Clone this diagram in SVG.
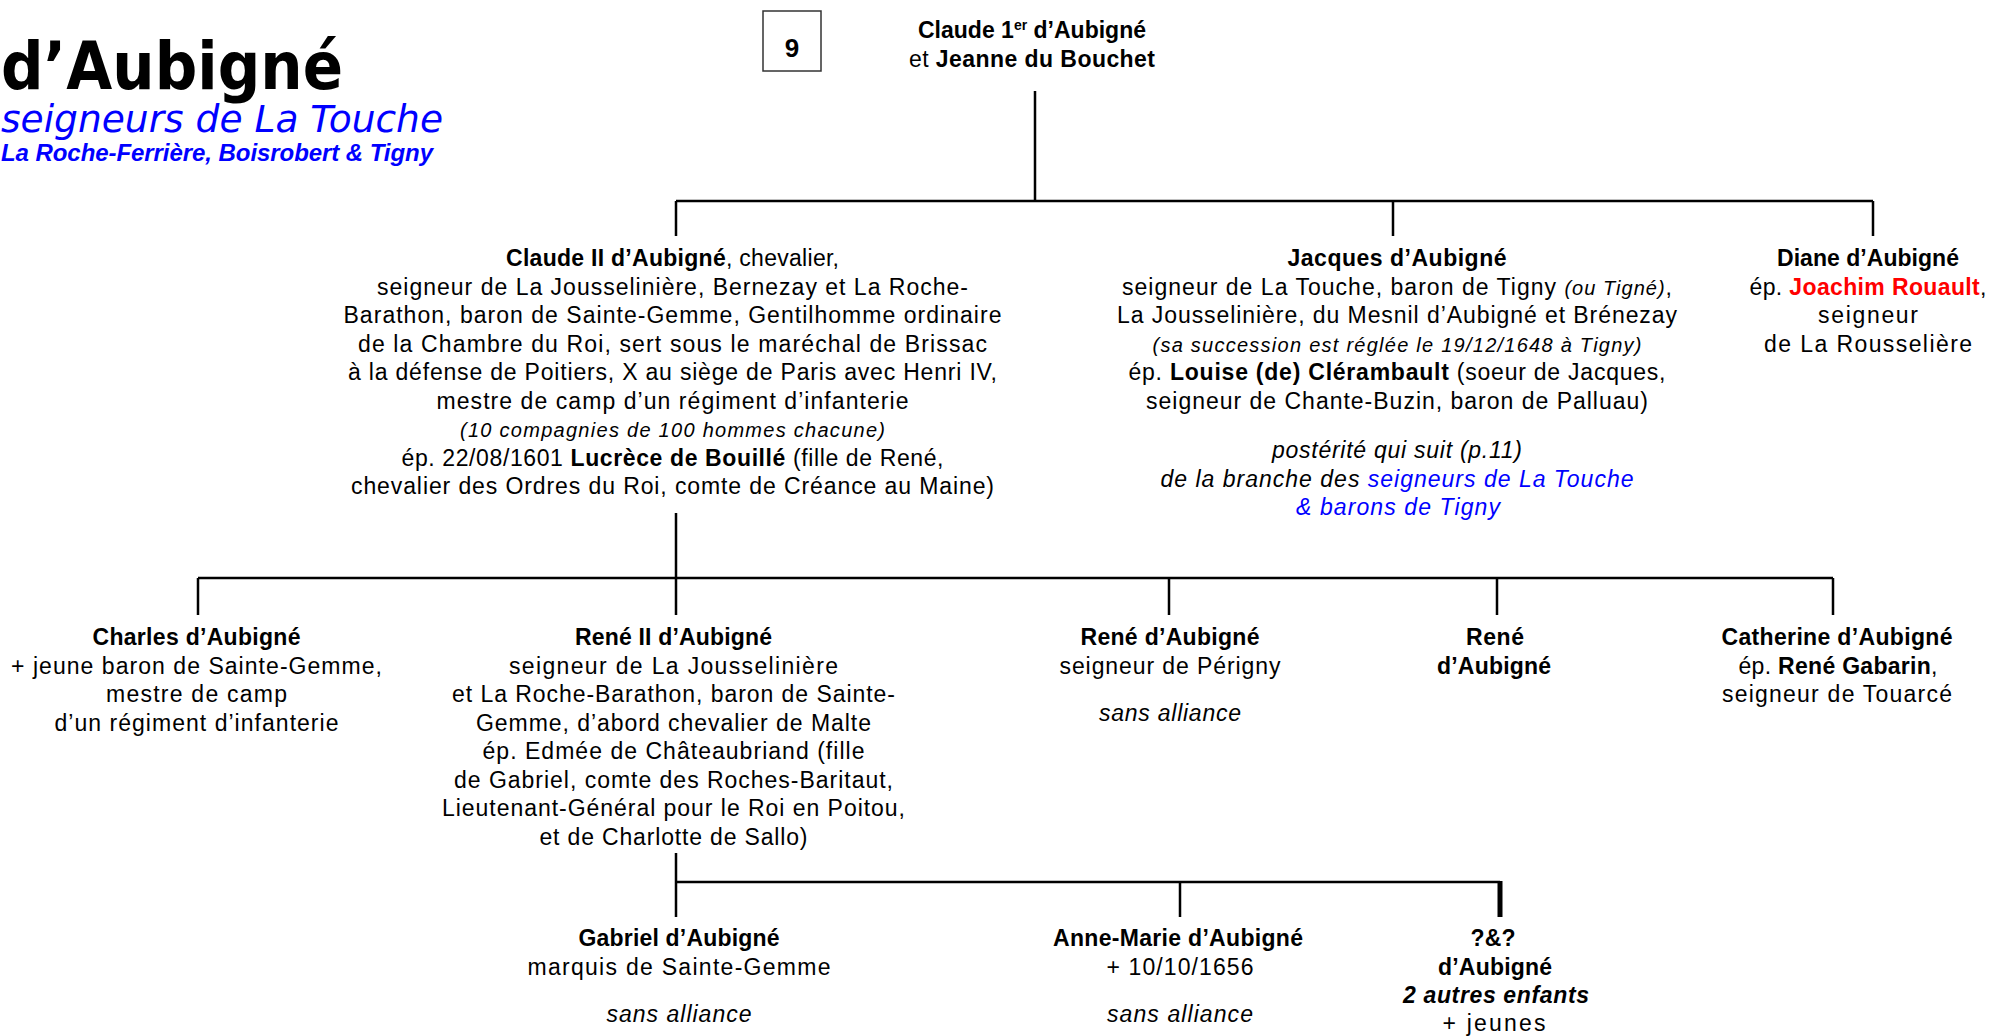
<svg xmlns="http://www.w3.org/2000/svg" width="1990" height="1036" viewBox="0 0 1990 1036">
<style>
text{font-family:"Liberation Sans",Arial,sans-serif;font-size:23px;fill:#000;text-anchor:middle}
.b{font-weight:bold}
.i{font-style:italic}
.s{font-size:20px}
.blue{fill:#0000ff}
.red{fill:#ff0000}
.ln{stroke:#000;stroke-width:2.5;fill:none}
</style>
<rect width="1990" height="1036" fill="#fff"/>
<g id="title">
<text x="1" y="89" textLength="342" lengthAdjust="spacingAndGlyphs" style="font-family:'DejaVu Sans',Verdana,sans-serif;font-weight:bold;font-size:66px;text-anchor:start">d’Aubigné</text>
<text x="1" y="132" class="blue" textLength="442" lengthAdjust="spacingAndGlyphs" style="font-family:'DejaVu Sans',Verdana,sans-serif;font-style:italic;font-size:37px;text-anchor:start">seigneurs de La Touche</text>
<text x="1" y="161" class="b i blue" textLength="432" style="font-size:24px;text-anchor:start">La Roche-Ferrière, Boisrobert &amp; Tigny</text>
</g>
<g id="page">
<rect x="763" y="11" width="58" height="60" fill="#fff" stroke="#333" stroke-width="1.5"/>
<text x="792" y="57" class="b" style="font-size:26px">9</text>
</g>
<g id="connectors">
<path class="ln" d="M1035 91V201M676 201H1873M676 201V236M1393 201V236M1873 201V236"/>
<path class="ln" d="M676 513V578M198 578H1833M198 578V615M676 578V615M1169 578V615M1497 578V615M1833 578V615"/>
<path class="ln" d="M676 853V882H1500M676 882V917M1180 882V917"/>
<path d="M1500 881V917" stroke="#000" stroke-width="5" fill="none"/>
</g>
<g id="claude1">
<text x="1032" y="38" class="b" textLength="228">Claude 1<tspan style="font-size:14px" dy="-8">er</tspan><tspan dy="8"> d’Aubigné</tspan></text>
<text x="1032" y="67" textLength="246">et <tspan class="b">Jeanne du Bouchet</tspan></text>
</g>
<g id="claude2">
<text x="672.5" y="266" textLength="333"><tspan class="b">Claude II d’Aubigné</tspan>, chevalier,</text>
<text x="672.5" y="294.5" textLength="591">seigneur de La Jousselinière, Bernezay et La Roche-</text>
<text x="672.5" y="323" textLength="658">Barathon, baron de Sainte-Gemme, Gentilhomme ordinaire</text>
<text x="672.5" y="351.5" textLength="629">de la Chambre du Roi, sert sous le maréchal de Brissac</text>
<text x="672.5" y="380" textLength="649">à la défense de Poitiers, X au siège de Paris avec Henri IV,</text>
<text x="672.5" y="408.5" textLength="472">mestre de camp d’un régiment d’infanterie</text>
<text x="672.5" y="437" class="i s" textLength="425">(10 compagnies de 100 hommes chacune)</text>
<text x="672.5" y="465.5" textLength="542">ép. 22/08/1601 <tspan class="b">Lucrèce de Bouillé</tspan> (fille de René,</text>
<text x="672.5" y="494" textLength="643">chevalier des Ordres du Roi, comte de Créance au Maine)</text>
</g>
<g id="jacques">
<text x="1397" y="266" class="b" textLength="219">Jacques d’Aubigné</text>
<text x="1397" y="294.5" textLength="550">seigneur de La Touche, baron de Tigny <tspan class="i s">(ou Tigné)</tspan>,</text>
<text x="1397" y="323" textLength="560">La Jousselinière, du Mesnil d’Aubigné et Brénezay</text>
<text x="1397" y="351.5" class="i s" textLength="489">(sa succession est réglée le 19/12/1648 à Tigny)</text>
<text x="1397" y="380" textLength="537">ép. <tspan class="b">Louise (de) Clérambault</tspan> (soeur de Jacques,</text>
<text x="1397" y="408.5" textLength="502">seigneur de Chante-Buzin, baron de Palluau)</text>
<text x="1397" y="458" class="i" textLength="250">postérité qui suit (p.11)</text>
<text x="1397" y="486.5" class="i" textLength="473">de la branche des <tspan class="blue">seigneurs de La Touche</tspan></text>
<text x="1398" y="515" class="i blue" textLength="204">&amp; barons de Tigny</text>
</g>
<g id="diane">
<text x="1868" y="266" class="b" textLength="182">Diane d’Aubigné</text>
<text x="1868" y="294.5" textLength="237">ép. <tspan class="b red">Joachim Rouault</tspan>,</text>
<text x="1868" y="323" textLength="100">seigneur</text>
<text x="1868" y="351.5" textLength="208">de La Rousselière</text>
</g>
<g id="charles">
<text x="196.5" y="645" class="b" textLength="208">Charles d’Aubigné</text>
<text x="196.5" y="673.5" textLength="371">+ jeune baron de Sainte-Gemme,</text>
<text x="196.5" y="702" textLength="181">mestre de camp</text>
<text x="196.5" y="730.5" textLength="284">d’un régiment d’infanterie</text>
</g>
<g id="rene2">
<text x="673.5" y="645" class="b" textLength="197">René II d’Aubigné</text>
<text x="673.5" y="673.5" textLength="329">seigneur de La Jousselinière</text>
<text x="673.5" y="702" textLength="443">et La Roche-Barathon, baron de Sainte-</text>
<text x="673.5" y="730.5" textLength="395">Gemme, d’abord chevalier de Malte</text>
<text x="673.5" y="759" textLength="382">ép. Edmée de Châteaubriand (fille</text>
<text x="673.5" y="787.5" textLength="439">de Gabriel, comte des Roches-Baritaut,</text>
<text x="673.5" y="816" textLength="463">Lieutenant-Général pour le Roi en Poitou,</text>
<text x="673.5" y="844.5" textLength="268">et de Charlotte de Sallo)</text>
</g>
<g id="rene-perigny">
<text x="1170" y="645" class="b" textLength="179">René d’Aubigné</text>
<text x="1170" y="673.5" textLength="221">seigneur de Périgny</text>
<text x="1170" y="721" class="i" textLength="142">sans alliance</text>
</g>
<g id="rene">
<text x="1495" y="645" class="b" textLength="58">René</text>
<text x="1494" y="673.5" class="b" textLength="114">d’Aubigné</text>
</g>
<g id="catherine">
<text x="1837" y="645" class="b" textLength="231">Catherine d’Aubigné</text>
<text x="1838" y="673.5" textLength="199">ép. <tspan class="b">René Gabarin</tspan>,</text>
<text x="1837" y="702" textLength="230">seigneur de Touarcé</text>
</g>
<g id="gabriel">
<text x="679" y="946" class="b" textLength="201">Gabriel d’Aubigné</text>
<text x="679" y="974.5" textLength="303">marquis de Sainte-Gemme</text>
<text x="679" y="1022" class="i" textLength="145">sans alliance</text>
</g>
<g id="anne-marie">
<text x="1178" y="946" class="b" textLength="250">Anne-Marie d’Aubigné</text>
<text x="1180" y="974.5" textLength="147">+ 10/10/1656</text>
<text x="1180" y="1022" class="i" textLength="146">sans alliance</text>
</g>
<g id="autres">
<text x="1493" y="946" class="b" textLength="45">?&amp;?</text>
<text x="1495" y="974.5" class="b" textLength="114">d’Aubigné</text>
<text x="1496" y="1003" class="b i" textLength="186">2 autres enfants</text>
<text x="1494" y="1031" textLength="103">+ jeunes</text>
</g>
</svg>
